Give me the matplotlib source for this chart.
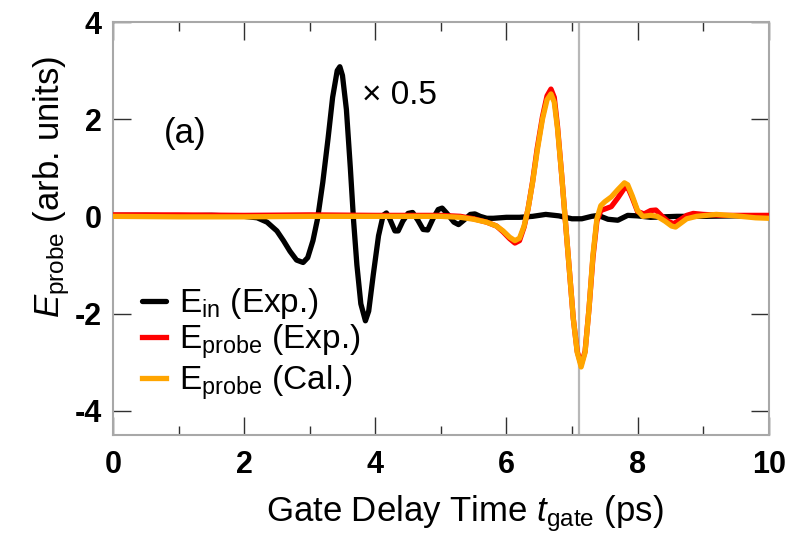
import matplotlib
matplotlib.use("Agg")
import matplotlib.pyplot as plt
from matplotlib.ticker import MultipleLocator

plt.rcParams["font.family"] = ["Liberation Sans", "DejaVu Sans"]
plt.rcParams["mathtext.fontset"] = "custom"
plt.rcParams["mathtext.rm"] = "Liberation Sans"
plt.rcParams["mathtext.it"] = "Liberation Sans:italic"
plt.rcParams["axes.unicode_minus"] = False

# E_in (Exp.), scaled x0.5
t_in = [0.0, 0.5, 1.0, 1.5, 2.0, 2.2, 2.35, 2.5, 2.6, 2.7, 2.8, 2.9, 2.97,
        3.05, 3.12, 3.2, 3.28, 3.35, 3.42, 3.46, 3.5, 3.56, 3.62, 3.67, 3.72,
        3.78, 3.85, 3.9, 3.97, 4.05, 4.12, 4.17, 4.22, 4.3, 4.35, 4.42, 4.5,
        4.57, 4.65, 4.73, 4.8, 4.88, 4.96, 5.02, 5.1, 5.2, 5.27, 5.35, 5.45,
        5.52, 5.6, 5.7, 5.8, 6.0, 6.2, 6.4, 6.6, 6.8, 7.0, 7.15, 7.3, 7.4,
        7.55, 7.7, 7.85, 8.0, 8.2, 8.4, 8.6, 9.0, 9.5, 10.0]
e_in = [0.02, 0.02, 0.01, 0.02, 0.0, -0.03, -0.12, -0.3, -0.5, -0.72, -0.9,
        -0.95, -0.85, -0.5, -0.05, 0.7, 1.6, 2.45, 3.0, 3.08, 2.9, 2.2, 1.0,
        -0.1, -1.0, -1.8, -2.15, -1.95, -1.2, -0.4, 0.02, 0.07, -0.05, -0.3,
        -0.3, -0.1, 0.06, 0.08, -0.08, -0.27, -0.28, -0.05, 0.14, 0.17, 0.05,
        -0.12, -0.17, -0.08, 0.04, 0.05, 0.0, -0.04, -0.04, -0.02, -0.02, 0.0,
        0.04, 0.01, -0.05, -0.05, 0.0, 0.02, -0.06, -0.08, 0.02, 0.01, -0.02,
        -0.01, 0.0, 0.0, 0.01, 0.0]

# E_probe (Exp.)
t_exp = [0.0, 1.0, 2.0, 3.0, 4.0, 5.0, 5.3, 5.5, 5.7, 5.85, 5.95, 6.05, 6.13,
         6.2, 6.27, 6.33, 6.4, 6.47, 6.55, 6.62, 6.68, 6.73, 6.78, 6.84, 6.9,
         6.96, 7.02, 7.08, 7.14, 7.2, 7.26, 7.32, 7.38, 7.44, 7.5, 7.6, 7.7,
         7.8, 7.85, 7.92, 8.0, 8.1, 8.2, 8.28, 8.36, 8.46, 8.55, 8.64, 8.75,
         8.85, 9.0, 9.3, 10.0]
e_exp = [0.03, 0.03, 0.02, 0.03, 0.02, 0.02, 0.0, -0.05, -0.12, -0.2, -0.32,
         -0.46, -0.55, -0.5, -0.22, 0.15, 0.72, 1.4, 2.05, 2.48, 2.62, 2.45,
         1.85, 0.9, -0.1, -1.1, -2.1, -2.78, -3.05, -2.78, -1.9, -0.85, -0.1,
         0.12, 0.15, 0.2, 0.38, 0.58, 0.6, 0.38, 0.1, 0.05, 0.12, 0.13, 0.02,
         -0.1, -0.15, -0.08, 0.02, 0.06, 0.04, 0.02, 0.02]

# E_probe (Cal.)
t_cal = [0.0, 1.0, 2.0, 3.0, 4.0, 4.5, 5.0, 5.3, 5.5, 5.7, 5.85, 5.95, 6.05,
         6.13, 6.2, 6.27, 6.33, 6.4, 6.47, 6.55, 6.62, 6.68, 6.73, 6.78, 6.84,
         6.9, 6.96, 7.02, 7.08, 7.14, 7.2, 7.26, 7.32, 7.38, 7.44, 7.5, 7.6,
         7.7, 7.8, 7.85, 7.92, 8.0, 8.08, 8.2, 8.3, 8.42, 8.52, 8.58, 8.66,
         8.75, 8.9, 9.2, 9.5, 9.8, 10.0]
e_cal = [0.0, -0.01, -0.01, 0.0, 0.0, 0.0, 0.0, -0.02, -0.06, -0.12, -0.2,
         -0.3, -0.43, -0.5, -0.45, -0.2, 0.15, 0.7, 1.35, 2.0, 2.4, 2.52, 2.35,
         1.8, 0.9, -0.1, -1.1, -2.1, -2.8, -3.1, -2.8, -1.9, -0.8, -0.05, 0.22,
         0.3, 0.4, 0.55, 0.69, 0.65, 0.42, 0.12, 0.0, 0.02, 0.0, -0.1, -0.2,
         -0.22, -0.14, -0.05, 0.0, 0.04, 0.01, -0.03, -0.04]

t_mark = 7.1

fig = plt.figure(figsize=(7.9, 5.37), dpi=100)
ax = fig.add_axes([0.143, 0.19, 0.830, 0.769])

ax.axvline(t_mark, color="#b8b8b8", lw=1.6, zorder=1)

lw = 3.8
ax.plot(t_in, e_in, color="black", lw=lw, solid_joinstyle="round",
        solid_capstyle="round", label=r"E$_{\mathrm{in}}$ (Exp.)", zorder=2)
ax.plot(t_exp, e_exp, color="#ff0000", lw=lw, solid_joinstyle="round",
        label=r"E$_{\mathrm{probe}}$ (Exp.)", zorder=3)
ax.plot(t_cal, e_cal, color="#ffa500", lw=lw, solid_joinstyle="round",
        label=r"E$_{\mathrm{probe}}$ (Cal.)", zorder=4)

ax.set_xlim(0, 10)
ax.set_ylim(-4.5, 4)
ax.xaxis.set_major_locator(MultipleLocator(2))
ax.xaxis.set_minor_locator(MultipleLocator(1))
ax.set_yticks([-4, -2, 0, 2, 4])

for s in ax.spines.values():
    s.set_color("#a8a8a8")
    s.set_linewidth(1.5)

ax.tick_params(axis="both", which="both", direction="in", top=True,
               right=True, color="#303030", width=1.0)
ax.tick_params(axis="x", which="major", length=13, pad=11)
ax.tick_params(axis="x", which="minor", length=6.5)
ax.tick_params(axis="y", which="major", length=13, pad=8)
for lab in ax.get_xticklabels() + ax.get_yticklabels():
    lab.set_fontweight("bold")
    lab.set_fontsize(22)

ax.set_xlabel(r"Gate Delay Time $t_{\mathrm{gate}}$ (ps)", fontsize=25)
ax.xaxis.set_label_coords(0.537, -0.14)
ax.set_ylabel(r"$E_{\mathrm{probe}}$ (arb. units)", fontsize=25)
ax.yaxis.set_label_coords(-0.062, 0.6)

ax.text(0.11, 0.731, "(a)", transform=ax.transAxes, fontsize=25,
        ha="center", va="center")
ax.text(0.38, 0.823, "\u00d7 0.5", transform=ax.transAxes, fontsize=24,
        ha="left", va="center")

ax.legend(loc="upper left", bbox_to_anchor=(0.045, 0.36), frameon=False,
          fontsize=24, handlelength=0.7, handletextpad=0.4, labelspacing=0.05,
          borderpad=0, borderaxespad=0)

fig.savefig("out.png", dpi=100)
